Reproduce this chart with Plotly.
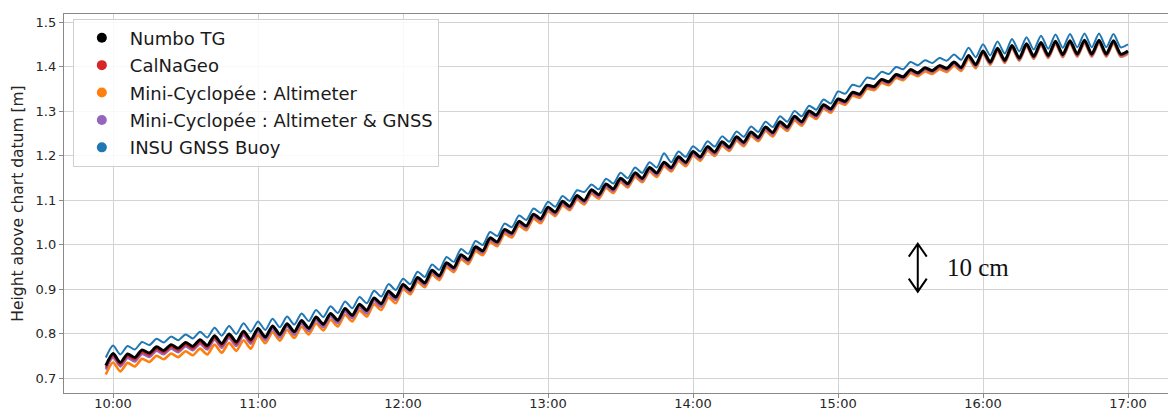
import pandas as pd
import plotly.graph_objects as go

# Sample times: every 3 minutes from 09:57 to 17:00
start_time = "2021-01-01 09:57"
step = "3min"

numbo_tg = [
    0.728, 0.755, 0.735, 0.754, 0.746, 0.763, 0.756, 0.770, 0.762, 0.775,
    0.767, 0.780, 0.771, 0.786, 0.773, 0.795, 0.777, 0.799, 0.781, 0.805,
    0.786, 0.811, 0.792, 0.817, 0.798, 0.822, 0.804, 0.829, 0.812, 0.837,
    0.821, 0.845, 0.830, 0.856, 0.841, 0.866, 0.852, 0.880, 0.867, 0.895,
    0.882, 0.910, 0.898, 0.926, 0.914, 0.942, 0.930, 0.959, 0.948, 0.977,
    0.966, 0.995, 0.986, 1.015, 1.006, 1.034, 1.026, 1.052, 1.042, 1.068,
    1.058, 1.084, 1.073, 1.097, 1.086, 1.110, 1.099, 1.123, 1.112, 1.136,
    1.125, 1.149, 1.137, 1.161, 1.149, 1.173, 1.161, 1.185, 1.173, 1.197,
    1.185, 1.209, 1.197, 1.220, 1.208, 1.231, 1.219, 1.242, 1.230, 1.253,
    1.241, 1.264, 1.252, 1.276, 1.264, 1.288, 1.276, 1.300, 1.291, 1.314,
    1.305, 1.327, 1.322, 1.342, 1.338, 1.358, 1.355, 1.371, 1.366, 1.382,
    1.377, 1.393, 1.386, 1.397, 1.391, 1.402, 1.396, 1.410, 1.398, 1.425,
    1.404, 1.435, 1.410, 1.441, 1.414, 1.447, 1.419, 1.451, 1.423, 1.454,
    1.425, 1.457, 1.427, 1.458, 1.428, 1.459, 1.428, 1.459, 1.428, 1.458,
    1.428, 1.435,
]

calnageo = [
    0.723, 0.750, 0.730, 0.749, 0.741, 0.758, 0.751, 0.765, 0.757, 0.770,
    0.762, 0.775, 0.766, 0.781, 0.768, 0.790, 0.772, 0.794, 0.776, 0.800,
    0.781, 0.809, 0.790, 0.815, 0.796, 0.820, 0.802, 0.827, 0.810, 0.835,
    0.819, 0.843, 0.828, 0.854, 0.839, 0.864, 0.850, 0.878, 0.865, 0.893,
    0.880, 0.908, 0.896, 0.924, 0.912, 0.940, 0.928, 0.957, 0.946, 0.975,
    0.964, 0.993, 0.984, 1.013, 1.004, 1.032, 1.024, 1.050, 1.040, 1.066,
    1.056, 1.082, 1.071, 1.095, 1.084, 1.108, 1.097, 1.121, 1.110, 1.134,
    1.123, 1.147, 1.135, 1.159, 1.147, 1.171, 1.159, 1.183, 1.171, 1.195,
    1.183, 1.207, 1.195, 1.218, 1.206, 1.229, 1.217, 1.240, 1.228, 1.251,
    1.239, 1.262, 1.250, 1.274, 1.262, 1.286, 1.274, 1.298, 1.289, 1.312,
    1.303, 1.325, 1.320, 1.340, 1.336, 1.356, 1.353, 1.369, 1.364, 1.380,
    1.375, 1.391, 1.384, 1.395, 1.389, 1.400, 1.394, 1.408, 1.396, 1.423,
    1.402, 1.433, 1.408, 1.439, 1.412, 1.445, 1.417, 1.449, 1.421, 1.452,
    1.423, 1.455, 1.425, 1.456, 1.426, 1.457, 1.426, 1.457, 1.426, 1.456,
    1.426, 1.433,
]

mc_altimeter = [
    0.708, 0.735, 0.715, 0.734, 0.726, 0.743, 0.736, 0.750, 0.742, 0.755,
    0.747, 0.760, 0.751, 0.766, 0.753, 0.775, 0.757, 0.779, 0.761, 0.785,
    0.766, 0.797, 0.778, 0.803, 0.784, 0.808, 0.790, 0.815, 0.798, 0.823,
    0.807, 0.831, 0.816, 0.842, 0.827, 0.852, 0.838, 0.866, 0.853, 0.881,
    0.868, 0.900, 0.888, 0.916, 0.904, 0.932, 0.920, 0.949, 0.938, 0.967,
    0.956, 0.985, 0.976, 1.005, 0.996, 1.024, 1.016, 1.042, 1.032, 1.058,
    1.048, 1.075, 1.064, 1.088, 1.077, 1.101, 1.090, 1.114, 1.103, 1.127,
    1.116, 1.140, 1.128, 1.152, 1.140, 1.164, 1.152, 1.176, 1.164, 1.188,
    1.176, 1.200, 1.188, 1.211, 1.199, 1.222, 1.210, 1.233, 1.221, 1.244,
    1.232, 1.255, 1.243, 1.267, 1.255, 1.279, 1.267, 1.291, 1.282, 1.305,
    1.296, 1.319, 1.314, 1.334, 1.330, 1.350, 1.347, 1.363, 1.358, 1.374,
    1.369, 1.385, 1.378, 1.389, 1.383, 1.394, 1.388, 1.402, 1.390, 1.417,
    1.396, 1.429, 1.404, 1.435, 1.408, 1.441, 1.413, 1.445, 1.417, 1.448,
    1.419, 1.451, 1.421, 1.452, 1.422, 1.453, 1.422, 1.453, 1.422, 1.452,
    1.422, 1.429,
]

mc_altimeter_gnss = [
    0.719, 0.746, 0.726, 0.745, 0.737, 0.754, 0.747, 0.761, 0.753, 0.766,
    0.758, 0.771, 0.762, 0.777, 0.764, 0.786, 0.768, 0.790, 0.772, 0.796,
    0.777, 0.804, 0.785, 0.810, 0.791, 0.815, 0.797, 0.822, 0.805, 0.830,
    0.814, 0.838, 0.823, 0.849, 0.834, 0.859, 0.845, 0.873, 0.860, 0.888,
    0.875, 0.905, 0.893, 0.921, 0.909, 0.937, 0.925, 0.954, 0.943, 0.972,
    0.961, 0.990, 0.981, 1.010, 1.001, 1.029, 1.021, 1.047, 1.037, 1.063,
    1.053, 1.079, 1.068, 1.092, 1.081, 1.105, 1.094, 1.118, 1.107, 1.131,
    1.120, 1.144, 1.132, 1.156, 1.144, 1.168, 1.156, 1.180, 1.168, 1.192,
    1.180, 1.204, 1.192, 1.215, 1.203, 1.226, 1.214, 1.237, 1.225, 1.248,
    1.236, 1.259, 1.247, 1.271, 1.259, 1.283, 1.271, 1.295, 1.286, 1.309,
    1.300, 1.323, 1.318, 1.338, 1.334, 1.354, 1.351, 1.367, 1.362, 1.378,
    1.373, 1.389, 1.382, 1.393, 1.387, 1.398, 1.392, 1.406, 1.394, 1.421,
    1.400, 1.431, 1.406, 1.437, 1.410, 1.443, 1.415, 1.447, 1.419, 1.450,
    1.421, 1.453, 1.423, 1.454, 1.424, 1.455, 1.424, 1.455, 1.424, 1.454,
    1.424, 1.431,
]

insu_buoy = [
    0.746, 0.773, 0.753, 0.772, 0.764, 0.781, 0.774, 0.788, 0.780, 0.793,
    0.785, 0.798, 0.789, 0.804, 0.791, 0.813, 0.795, 0.817, 0.799, 0.823,
    0.804, 0.827, 0.808, 0.833, 0.814, 0.838, 0.820, 0.845, 0.828, 0.853,
    0.837, 0.861, 0.846, 0.872, 0.857, 0.882, 0.868, 0.896, 0.883, 0.911,
    0.898, 0.923, 0.911, 0.939, 0.927, 0.955, 0.943, 0.972, 0.961, 0.990,
    0.979, 1.008, 0.999, 1.028, 1.019, 1.047, 1.039, 1.065, 1.055, 1.081,
    1.071, 1.096, 1.085, 1.109, 1.098, 1.122, 1.118, 1.135, 1.124, 1.148,
    1.137, 1.161, 1.149, 1.173, 1.161, 1.185, 1.173, 1.205, 1.185, 1.209,
    1.197, 1.221, 1.209, 1.232, 1.220, 1.243, 1.231, 1.254, 1.242, 1.265,
    1.253, 1.276, 1.264, 1.288, 1.276, 1.300, 1.288, 1.312, 1.303, 1.326,
    1.317, 1.344, 1.339, 1.359, 1.355, 1.375, 1.372, 1.388, 1.383, 1.399,
    1.394, 1.410, 1.403, 1.414, 1.408, 1.419, 1.413, 1.427, 1.415, 1.442,
    1.421, 1.450, 1.425, 1.456, 1.429, 1.462, 1.434, 1.466, 1.438, 1.469,
    1.440, 1.472, 1.442, 1.473, 1.443, 1.474, 1.443, 1.474, 1.443, 1.473,
    1.443, 1.450,
]

series_names = [
    "Numbo TG",
    "CalNaGeo",
    "Mini-Cyclopée : Altimeter",
    "Mini-Cyclopée : Altimeter & GNSS",
    "INSU GNSS Buoy",
]
series_values = [numbo_tg, calnageo, mc_altimeter, mc_altimeter_gnss, insu_buoy]
series_colors = ["#000000", "#d62728", "#ff7f0e", "#9467bd", "#1f77b4"]
series_widths = [3.0, 2.0, 2.6, 2.4, 2.0]

x_tick_labels = ["10:00", "11:00", "12:00", "13:00", "14:00", "15:00", "16:00", "17:00"]
y_tick_values = [0.7, 0.8, 0.9, 1.0, 1.1, 1.2, 1.3, 1.4, 1.5]

times = pd.date_range(start_time, periods=len(numbo_tg), freq=step)
day = "2021-01-01 "

fig = go.Figure()

# draw order: orange, purple, red, blue, black on top
for idx in [2, 3, 1, 4, 0]:
    fig.add_trace(go.Scatter(
        x=times, y=series_values[idx], mode="lines",
        line=dict(color=series_colors[idx], width=series_widths[idx],
                  shape="spline", smoothing=0.7),
        showlegend=False, hoverinfo="skip",
    ))

# legend entries (dots)
for i, name in enumerate(series_names):
    fig.add_trace(go.Scatter(
        x=[None], y=[None], mode="markers", name=name,
        marker=dict(color=series_colors[i], size=10),
        legendgroup=name,
    ))

font_family = "DejaVu Sans"

fig.update_layout(
    width=1168, height=412,
    margin=dict(l=64, r=0, t=14, b=19),
    paper_bgcolor="white", plot_bgcolor="white",
    font=dict(family=font_family, size=13, color="#262626"),
    legend=dict(
        x=0.008, y=0.988, xanchor="left", yanchor="top",
        bgcolor="rgba(255,255,255,0.85)", bordercolor="#d0d0d0", borderwidth=1,
        font=dict(family=font_family, size=18, color="#1a1a1a"),
        traceorder="grouped", tracegroupgap=1, itemwidth=46,
    ),
    xaxis=dict(
        type="date",
        range=[day + "09:39:42", day + "17:16:33"],
        tickvals=[day + t for t in x_tick_labels],
        ticktext=x_tick_labels,
        showgrid=True, gridcolor="#d3d3d3", gridwidth=1,
        showline=True, linecolor="#8a8a8a", linewidth=1.3, mirror=True,
        ticks="outside", ticklen=4, tickcolor="#8a8a8a",
        ticklabelstandoff=-6,
        tickfont=dict(size=13), automargin=False, zeroline=False,
    ),
    yaxis=dict(
        range=[0.6663, 1.518],
        tickvals=y_tick_values, tickformat=".1f",
        showgrid=True, gridcolor="#d3d3d3", gridwidth=1,
        showline=True, linecolor="#8a8a8a", linewidth=1.3, mirror=False,
        ticks="outside", ticklen=4, tickcolor="#8a8a8a",
        tickfont=dict(size=13), automargin=False, zeroline=False,
        title=dict(text="Height above chart datum [m]", standoff=8,
                   font=dict(size=15.5)),
    ),
)

# 10 cm scale arrow
fig.add_shape(
    type="path", xref="x", yref="y",
    xsizemode="pixel", ysizemode="pixel",
    xanchor=day + "15:33:00", yanchor=0.948,
    path="M 0,-24 L 0,24 M -9,-11 L 0,-24 L 9,-11 M -9,11 L 0,24 L 9,11",
    line=dict(color="black", width=2),
)
fig.add_annotation(
    x=day + "15:44:20", y=0.948, xref="x", yref="y",
    xanchor="left", yanchor="middle", showarrow=False,
    text="10 cm", font=dict(family="Liberation Serif", size=25, color="#111111"),
)

fig.write_html(
    "out.html",
    config={"displayModeBar": False},
    post_script="document.body.style.margin='0';document.body.style.overflow='hidden';",
)
